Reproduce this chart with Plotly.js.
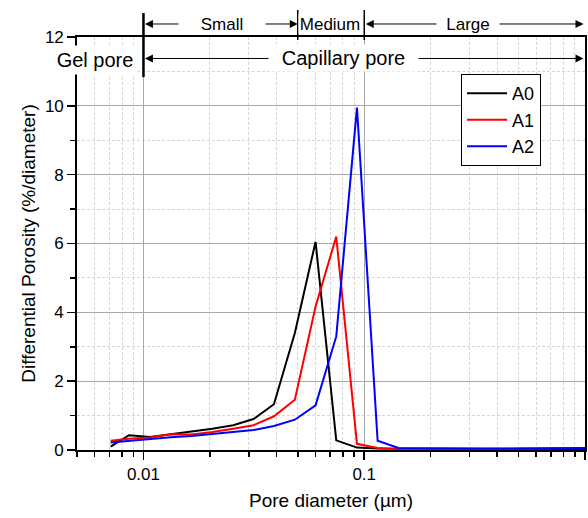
<!DOCTYPE html>
<html>
<head>
<meta charset="utf-8">
<script src="https://cdn.plot.ly/plotly-3.0.1.min.js"></script>
<style>
  html, body { margin: 0; padding: 0; background: #fff; }
  #chart { width: 588px; height: 518px; }
</style>
</head>
<body>
<div id="chart"></div>
<script>
// Pore diameter (µm) shared by all three mixes
const poreDiameter = [0.0071, 0.0086, 0.0107, 0.0133, 0.0165, 0.0205, 0.0255, 0.0315, 0.039, 0.0485,
                      0.0602, 0.0747, 0.0927, 0.115, 0.143, 0.178, 0.221, 0.274, 0.34, 0.42,
                      0.52, 0.65, 0.8, 1.0];

// Differential porosity (%/diameter)
const seriesA0 = [0.10, 0.43, 0.38, 0.45, 0.54, 0.62, 0.72, 0.90, 1.33, 3.40,
                  6.05, 0.28, 0.07, 0.04, 0.03, 0.02, 0.02, 0.02, 0.02, 0.02,
                  0.02, 0.03, 0.03, 0.03];
const seriesA1 = [0.27, 0.33, 0.36, 0.46, 0.45, 0.52, 0.62, 0.72, 0.98, 1.46,
                  4.17, 6.20, 0.18, 0.06, 0.03, 0.03, 0.02, 0.02, 0.02, 0.03,
                  0.03, 0.04, 0.05, 0.06];
const seriesA2 = [0.22, 0.27, 0.31, 0.37, 0.41, 0.46, 0.52, 0.58, 0.70, 0.88,
                  1.30, 3.30, 9.95, 0.27, 0.06, 0.05, 0.05, 0.04, 0.04, 0.04,
                  0.05, 0.05, 0.06, 0.06];

const seriesNames = ['A0', 'A1', 'A2'];
const seriesColors = ['#000000', '#ff0000', '#0000ff'];

// Axis ticks
const xMajorTicks = [0.01, 0.1, 1];
const xMajorLabels = ['0.01', '0.1', '1'];
const xMinorTicks = [0.005, 0.006, 0.007, 0.008, 0.009,
                     0.02, 0.03, 0.04, 0.05, 0.06, 0.07, 0.08, 0.09,
                     0.2, 0.3, 0.4, 0.5, 0.6, 0.7, 0.8, 0.9];

// Pore-size class boundaries (µm)
const gelLimit = 0.01, smallLimit = 0.05, mediumLimit = 0.1;

const FONT = 'Liberation Sans, Arial, sans-serif';
const lg = Math.log10;
const xRange = [lg(0.005), 0];

const traces = [seriesA0, seriesA1, seriesA2].map((ys, i) => ({
  type: 'scatter', mode: 'lines',
  x: poreDiameter, y: ys, name: seriesNames[i],
  line: { color: seriesColors[i], width: 2 }
}));

const arrowBase = {
  text: '', showarrow: true, arrowside: 'end+start', arrowhead: 2,
  arrowsize: 1.6, arrowwidth: 1, arrowcolor: '#000',
  xref: 'x', yref: 'paper', axref: 'x', ayref: 'pixel', ay: 0, standoff: 0, startstandoff: 0
};
const label = (text, x, y, size, w, h, xref) => ({
  text: text, x: x, y: y, xref: xref || 'x', yref: 'paper', showarrow: false,
  font: { family: FONT, size: size, color: '#000' }, bgcolor: '#ffffff',
  width: w, height: h, borderpad: 0, xanchor: 'center', yanchor: 'middle'
});

const rowTop = 1.0315, rowCap = 0.948;
const minorGrid = '#d6d6d6';

const layout = {
  width: 588, height: 518,
  margin: { l: 77, r: 3, t: 37, b: 68 },
  paper_bgcolor: '#fff', plot_bgcolor: '#fff',
  font: { family: FONT, size: 17, color: '#000' },
  showlegend: true,
  legend: {
    x: 0.756, y: 0.91, xanchor: 'left', yanchor: 'top',
    bgcolor: '#fff', bordercolor: '#000', borderwidth: 1,
    entrywidth: 62, itemwidth: 40,
    font: { family: FONT, size: 18, color: '#000' }
  },
  xaxis: {
    type: 'log', range: xRange,
    tickmode: 'array', tickvals: xMajorTicks, ticktext: xMajorLabels,
    ticks: 'outside', ticklen: 8, tickwidth: 1.5, tickcolor: '#000',
    showline: true, linecolor: '#000', linewidth: 1.8, mirror: true,
    showgrid: true, gridcolor: '#a8a8a8', gridwidth: 1,
    zeroline: false,
    minor: { tickmode: 'array', tickvals: xMinorTicks, ticks: 'outside', ticklen: 5,
             tickwidth: 1.5, tickcolor: '#000', showgrid: true,
             gridcolor: minorGrid, griddash: '3px,2px', gridwidth: 1 },
    tickfont: { family: FONT, size: 17 },
    title: { text: 'Pore diameter (µm)', font: { family: FONT, size: 19 }, standoff: 10 }
  },
  yaxis: {
    range: [0, 12], dtick: 2, tick0: 0,
    ticks: 'outside', ticklen: 8, tickwidth: 1.5, tickcolor: '#000',
    showline: true, linecolor: '#000', linewidth: 1.8, mirror: true,
    showgrid: true, gridcolor: '#a8a8a8', gridwidth: 1,
    zeroline: false,
    minor: { dtick: 1, ticks: 'outside', ticklen: 5, tickwidth: 1.5, tickcolor: '#000',
             showgrid: true, gridcolor: minorGrid, griddash: '3px,2px', gridwidth: 1 },
    tickfont: { family: FONT, size: 17 },
    title: { text: 'Differential Porosity (%/diameter)', font: { family: FONT, size: 19 }, standoff: 4 }
  },
  // inward ticks on the top and right frame
  xaxis2: {
    type: 'log', range: xRange, overlaying: 'x', side: 'top', anchor: 'y',
    tickmode: 'array', tickvals: xMajorTicks, showticklabels: false,
    ticks: 'inside', ticklen: 8, tickwidth: 1.5, tickcolor: '#000',
    showgrid: false, showline: false, zeroline: false,
    minor: { tickmode: 'array', tickvals: xMinorTicks, ticks: 'inside', ticklen: 5,
             tickwidth: 1.5, tickcolor: '#000', showgrid: false }
  },
  yaxis2: {
    range: [0, 12], dtick: 2, overlaying: 'y', side: 'right', anchor: 'x',
    showticklabels: false, ticks: 'inside', ticklen: 8, tickwidth: 1.5, tickcolor: '#000',
    showgrid: false, showline: false, zeroline: false,
    minor: { dtick: 1, ticks: 'inside', ticklen: 5, tickwidth: 1.5, tickcolor: '#000', showgrid: false }
  },
  shapes: [
    { type: 'line', xref: 'x', yref: 'paper', x0: gelLimit, x1: gelLimit, y0: 0.903, y1: 1.058,
      line: { color: '#000', width: 2.5 } },
    { type: 'line', xref: 'x', yref: 'paper', x0: smallLimit, x1: smallLimit, y0: 0.9927, y1: 1.0654,
      line: { color: '#000', width: 1.5 } },
    { type: 'line', xref: 'x', yref: 'paper', x0: mediumLimit, x1: mediumLimit, y0: 0.9927, y1: 1.0654,
      line: { color: '#000', width: 1.5 } }
  ],
  annotations: [
    Object.assign({}, arrowBase, { x: lg(smallLimit), ax: lg(gelLimit), y: rowTop }),
    Object.assign({}, arrowBase, { x: -0.0068, ax: lg(mediumLimit), y: rowTop }),
    Object.assign({}, arrowBase, { x: -0.0068, ax: lg(gelLimit), y: rowCap }),
    label('Small', -1.643, rowTop, 17, 86, 18),
    label('Medium', -1.157, rowTop, 17, 62, 18),
    label('Large', -0.530, rowTop, 17, 62, 18),
    label('Capillary pore', -1.093, rowCap, 20, 149, 26),
    label('Gel pore', 0.0354, 0.9443, 20, 84, 28, 'paper')
  ]
};

Plotly.newPlot('chart', traces, layout, { displayModeBar: false, staticPlot: true });
</script>
</body>
</html>
